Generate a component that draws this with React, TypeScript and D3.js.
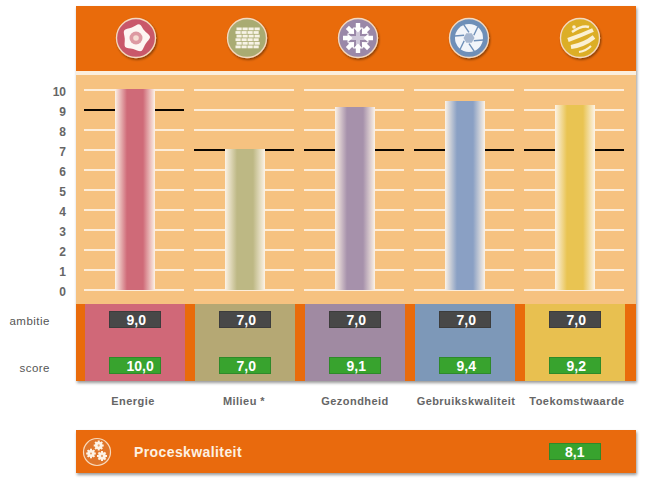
import React from "react";
import * as d3 from "d3";

const categories = ["Energie", "Milieu *", "Gezondheid", "Gebruikskwaliteit", "Toekomstwaarde"];
const scores = [10.0, 7.0, 9.1, 9.4, 9.2];
const ambitions = [9.0, 7.0, 7.0, 7.0, 7.0];
const barColors = ["#cf6a78", "#bdb884", "#a691ab", "#8aa0c4", "#e9c452"];
const cellColors = ["#d06878", "#b5a874", "#a08aa2", "#7d98b8", "#e8c050"];
const iconColors = ["#c9596b", "#a9ab72", "#9a88a8", "#6e8fb8", "#dcae27"];
const ticks = d3.range(0, 11);
const processLabel = "Proceskwaliteit";
const processScore = 8.1;
const ORANGE = "#e96b0b";
const W = 645, H = 480;
const fmt = (v: number) => v.toFixed(1).replace(".", ",");
const FONT = "'Liberation Sans', Arial, sans-serif";

const y = d3.scaleLinear().domain([0, 10]).range([290, 90]);
const iconX = d3.scaleLinear().domain([0, 4]).range([136, 580]);

function Badge({ x, yy, w, h, fill, edge, text, dx = 17.5 }: any) {
  return (
    <g>
      <rect x={x + 0.5} y={yy + 0.5} width={w - 1} height={h - 1} fill={fill} stroke={edge} strokeWidth={1} />
      <text x={x + dx} y={yy + h - 3.5} fontFamily={FONT} fontWeight="bold" fontSize={14} fill="#fff">{text}</text>
    </g>
  );
}

function Gear({ x, yy, r }: { x: number; yy: number; r: number }) {
  return (
    <g transform={`translate(${x},${yy})`}>
      {d3.range(8).map((k) => (
        <rect key={k} x={-1} y={-r - 1.2} width={2} height={2.4} fill="#fdf3e6" transform={`rotate(${k * 45})`} />
      ))}
      <circle r={r} fill="#fdf3e6" />
      <circle r={r * 0.3} fill="#e9a36a" />
    </g>
  );
}

function Icon({ i, x }: { i: number; x: number }) {
  const r = 18;
  const blob = d3.lineRadial<number>().curve(d3.curveBasisClosed).radius((_, k) => (k % 2 ? 10 : 17)).angle((_, k) => (k * Math.PI) / 5 + 0.25);
  const glyphs = [
    <g key="a">
      <path d={blob(d3.range(10)) || ""} fill="#fdf6f2" filter="url(#soft)" />
      <circle r={6.5} fill="#dd9aa2" filter="url(#soft)" /><circle r={2.8} fill="#f6dcd2" />
    </g>,
    <g key="b">
      {d3.range(6).map((k) => d3.range(4).map((m) => (
        <rect key={`${k}-${m}`} x={-11.5 + m * 6 + (k % 2 ? 0 : 1)} y={-10.5 + k * 3.6} width={5.2} height={2.8} fill="#f7f3e6" />
      )))}
    </g>,
    <g key="c">
      <path d="M0 -9 V9 M-9 0 H9" stroke="#cfc7d8" strokeWidth={4} />
      {d3.range(8).map((k) => (
        <path key={k} d="M-2.2 -15 L2.2 -15 L2.2 -10.5 L4.6 -10.5 L0 -5.5 L-4.6 -10.5 L-2.2 -10.5 Z" fill="#fff" transform={`rotate(${k * 45})`} />
      ))}
    </g>,
    <g key="d">
      <circle r={14} fill="#f2f5fa" />
      {d3.range(6).map((k) => (
        <path key={k} d="M4.8 -2.8 L9 -11.5" stroke="#6e8fb8" strokeWidth={1.4} transform={`rotate(${k * 60})`} />
      ))}
      <path d={d3.range(6).map((k) => `${k ? "L" : "M"}${5.5 * Math.cos((k * Math.PI) / 3)} ${5.5 * Math.sin((k * Math.PI) / 3)}`).join(" ") + "Z"} fill="#a6b6cf" />
    </g>,
    <g key="e" filter="url(#soft)">
      <path d="M-8 -6 Q2 -13 9 -11" stroke="#fbf0d2" strokeWidth={2.5} fill="none" />
      <path d="M-12 2 Q2 -3 13 -8" stroke="#fbf0d2" strokeWidth={4} fill="none" />
      <path d="M-9 9 Q4 7 14 -1" stroke="#fbf0d2" strokeWidth={4.2} fill="none" />
      <path d="M-1 14 Q6 13 11 8" stroke="#fbf0d2" strokeWidth={2} fill="none" />
      <circle cx={-6} cy={-11} r={1.8} fill="#fbf0d2" />
    </g>,
  ];
  return (
    <g transform={`translate(${x},38)`}>
      <circle r={r + 1.5} fill={iconColors[i]} stroke="#f4d9c0" strokeWidth={1.3} filter="url(#iconShadow)" />
      {glyphs[i]}
    </g>
  );
}

export default function App() {
  return (
    <svg width={W} height={H} viewBox={`0 0 ${W} ${H}`} style={{ position: "fixed", left: 0, top: 0, display: "block", background: "#fff" }}>
      <defs>
        {barColors.map((c, i) => (
          <linearGradient key={i} id={`bar${i}`} x1="0" x2="1" y1="0" y2="0">
            <stop offset="0" stopColor="#fdf3e6" />
            <stop offset="0.3" stopColor={c} />
            <stop offset="0.7" stopColor={c} />
            <stop offset="1" stopColor="#fdf3e6" />
          </linearGradient>
        ))}
        <filter id="shadow" x="-3%" y="-5%" width="106%" height="115%">
          <feDropShadow dx="1" dy="2" stdDeviation="1.5" floodColor="#000" floodOpacity="0.4" />
        </filter>
        <filter id="iconShadow" x="-30%" y="-30%" width="160%" height="160%">
          <feDropShadow dx="1" dy="1.5" stdDeviation="1" floodColor="#000" floodOpacity="0.45" />
        </filter>
        <filter id="soft" x="-20%" y="-20%" width="140%" height="140%">
          <feGaussianBlur stdDeviation="0.5" />
        </filter>
      </defs>

      <rect x={76} y={6} width={560} height={375} fill="#fff" filter="url(#shadow)" />
      <rect x={76} y={6} width={560} height={65} fill={ORANGE} />
      <rect x={76} y={71} width={560} height={4} fill="#fbeedd" />
      <rect x={76} y={75} width={560} height={229} fill="#f6c280" />
      <rect x={76} y={304} width={560} height={77} fill={ORANGE} />

      {categories.map((_, i) => <Icon key={i} i={i} x={iconX(i)} />)}

      {ticks.map((t) => (
        <text key={t} x={66} y={y(t) + 5.5} textAnchor="end" fontFamily={FONT} fontWeight="bold" fontSize={12} fill="#666">{t}</text>
      ))}

      {categories.map((c, i) => {
        const left = 84 + i * 110;
        const bx = 115 + i * 110;
        const top = y(Math.min(scores[i], 10)) - 1;
        return (
          <g key={c}>
            {ticks.map((t) => (
              <line key={t} x1={left} x2={left + 100} y1={y(t)} y2={y(t)} stroke="#fdeedb" strokeWidth={2} />
            ))}
            <line x1={left} x2={left + 100} y1={y(ambitions[i])} y2={y(ambitions[i])} stroke="#0a0500" strokeWidth={2} />
            <rect x={bx} y={top} width={40} height={y(0) - top} fill={`url(#bar${i})`} />
            <rect x={85 + i * 110} y={304} width={100} height={77} fill={cellColors[i]} />
            <Badge x={109 + i * 110} yy={311} w={52} h={17} fill="#484848" edge="#3c3c3c" text={fmt(ambitions[i])} />
            <Badge x={109 + i * 110} yy={357} w={52} h={17} fill="#38a32e" edge="#2e8a2a" text={fmt(scores[i])} />
            <text x={iconX(i) - 3} y={405} textAnchor="middle" fontFamily={FONT} fontWeight="bold" fontSize={11} letterSpacing={0.45} fill="#666">{c}</text>
          </g>
        );
      })}

      <text x={50} y={325} textAnchor="end" fontFamily={FONT} fontSize={11.5} letterSpacing={0.5} fill="#555">ambitie</text>
      <text x={50} y={372} textAnchor="end" fontFamily={FONT} fontSize={11.5} letterSpacing={0.5} fill="#555">score</text>

      <rect x={76} y={430} width={560} height={43} fill={ORANGE} filter="url(#shadow)" />
      <g>
        <circle cx={97} cy={452} r={13.5} fill="#e0762a" stroke="#f8d9bb" strokeWidth={1.2} />
        <Gear x={98.7} yy={445.5} r={3.8} />
        <Gear x={91} yy={453.5} r={3.6} />
        <Gear x={102} yy={456} r={3.8} />
      </g>
      <text x={134} y={457} fontFamily={FONT} fontWeight="bold" fontSize={14} letterSpacing={0.4} fill="#fdf1e2">{processLabel}</text>
      <Badge x={549} yy={443} w={52} h={17} fill="#38a32e" edge="#2e8a2a" text={fmt(processScore)} dx={16} />
    </svg>
  );
}
